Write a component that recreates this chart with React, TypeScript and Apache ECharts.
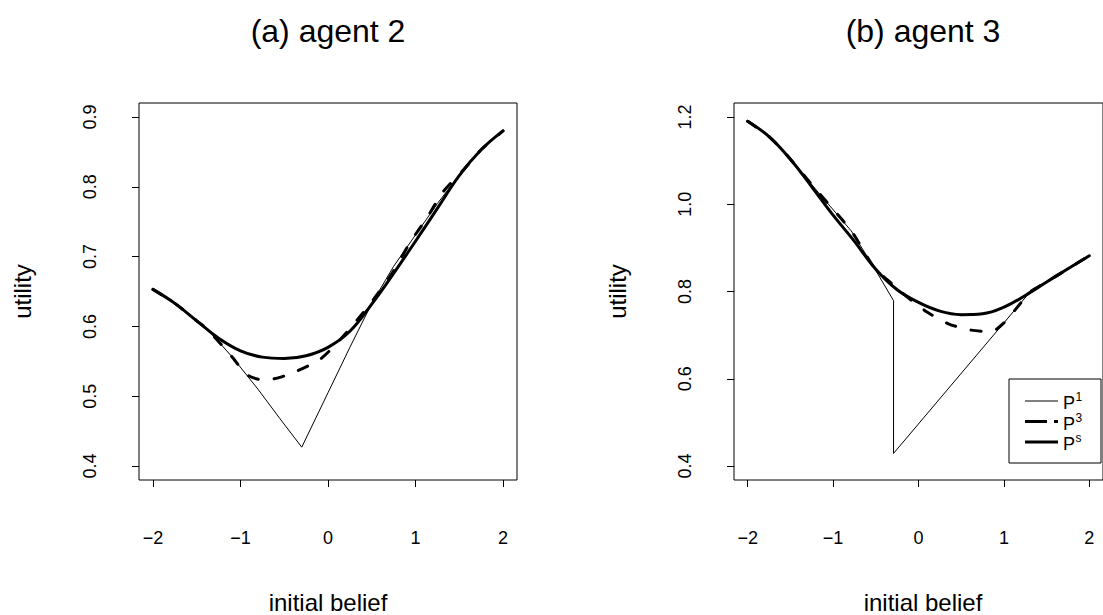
import React, { useEffect, useRef } from "react";
import * as echarts from "echarts";

// ---- text / ticks ----
const titles = ["(a) agent 2", "(b) agent 3"];
const xLabel = "initial belief";
const yLabel = "utility";
const xTicks = [-2, -1, 0, 1, 2];
const yTicksA = [0.4, 0.5, 0.6, 0.7, 0.8, 0.9];
const yTicksB = [0.4, 0.6, 0.8, 1.0, 1.2];
const legendSup = ["1", "3", "s"];

// ---- panel (a) agent 2 ----
const aPsX = [-2, -1.75, -1.5, -1.25, -1, -0.75, -0.5, -0.25, 0, 0.25, 0.5, 0.75, 1, 1.25, 1.5, 1.75, 2];
const aPsY = [0.653, 0.633, 0.608, 0.583, 0.565, 0.556, 0.554, 0.558, 0.57, 0.593, 0.632, 0.676, 0.722, 0.769, 0.816, 0.853, 0.88];

const aP1X = [-2, -1.75, -1.5, -1.38, -1.1, -0.8, -0.55, -0.3, 0, 0.25, 0.5, 0.75, 1, 1.25, 1.546, 1.75, 2];
const aP1Y = [0.653, 0.633, 0.608, 0.596, 0.557, 0.51, 0.468, 0.427, 0.505, 0.57, 0.633, 0.686, 0.731, 0.776, 0.824, 0.853, 0.88];

const aP3X = [-2, -1.75, -1.5, -1.38, -1.1, -0.927, -0.737, -0.55, -0.356, -0.09, 0.138, 0.404, 0.575, 0.747, 0.937, 1.128, 1.317, 1.546, 1.75, 2];
const aP3Y = [0.653, 0.633, 0.608, 0.596, 0.557, 0.531, 0.523, 0.527, 0.536, 0.553, 0.581, 0.62, 0.648, 0.679, 0.72, 0.755, 0.793, 0.824, 0.853, 0.88];

// ---- panel (b) agent 3 ----
const bPsX = [-2, -1.75, -1.5, -1.25, -1, -0.75, -0.5, -0.25, 0, 0.25, 0.5, 0.75, 1, 1.25, 1.5, 1.75, 2];
const bPsY = [1.19, 1.155, 1.103, 1.04, 0.975, 0.915, 0.851, 0.804, 0.775, 0.755, 0.747, 0.749, 0.764, 0.791, 0.822, 0.852, 0.882];

const bP1X = [-2, -1.75, -1.548, -1.168, -0.788, -0.521, -0.292, -0.292, 1.267, 1.5, 1.75, 2];
const bP1Y = [1.19, 1.155, 1.114, 1.026, 0.939, 0.855, 0.779, 0.429, 0.79, 0.822, 0.852, 0.882];

const bP3X = [-2, -1.75, -1.548, -1.168, -0.788, -0.521, -0.36, -0.13, 0.1, 0.35, 0.6, 0.85, 1.0, 1.19, 1.3, 1.5, 1.75, 2];
const bP3Y = [1.19, 1.155, 1.114, 1.026, 0.939, 0.855, 0.826, 0.787, 0.753, 0.726, 0.712, 0.708, 0.728, 0.772, 0.798, 0.822, 0.852, 0.882];

const zip = (xs: number[], ys: number[]) => xs.map((x, i) => [x, ys[i]]);

const FONT = "'Liberation Sans', Arial, Helvetica, sans-serif";

export default function App() {
  const ref = useRef<HTMLDivElement>(null);

  useEffect(() => {
    if (!ref.current) return;
    const chart = echarts.init(ref.current, undefined, { renderer: "svg" });

    const gridW = 378;
    const gridH = 377;
    const gridTop = 103;
    const lefts = [139, 734];

    const xAxisBase = (gi: number) => ({
      type: "value",
      gridIndex: gi,
      min: -2.16,
      max: 2.16,
      axisLine: { show: false, onZero: false },
      splitLine: { show: false },
      axisTick: {
        show: true,
        inside: false,
        length: 7,
        customValues: xTicks,
        lineStyle: { color: "#000", width: 1 },
      },
      axisLabel: {
        show: true,
        customValues: xTicks,
        margin: 49,
        color: "#000",
        fontSize: 18,
        fontFamily: FONT,
        formatter: (v: number) => (v < 0 ? "\u2212" + Math.abs(v) : String(v)),
      },
    });

    const yAxisBase = (gi: number, ticks: number[], min: number, max: number) => ({
      type: "value",
      gridIndex: gi,
      min,
      max,
      axisLine: { show: false, onZero: false },
      splitLine: { show: false },
      axisTick: {
        show: true,
        inside: false,
        length: 7,
        customValues: ticks,
        lineStyle: { color: "#000", width: 1 },
      },
      axisLabel: {
        show: true,
        customValues: ticks,
        rotate: 90,
        margin: 40,
        color: "#000",
        fontSize: 18,
        fontFamily: FONT,
        formatter: (v: number) => v.toFixed(1),
      },
    });

    const lineSeries = (
      name: string,
      gi: number,
      data: number[][],
      width: number,
      dashed: boolean,
      smooth: number | boolean
    ) => ({
      type: "line",
      name,
      xAxisIndex: gi,
      yAxisIndex: gi,
      data,
      showSymbol: false,
      symbol: "none",
      smooth,
      lineStyle: {
        color: "#000",
        width,
        type: dashed ? [10, 16] : "solid",
        cap: "round",
        join: "round",
      },
      z: width > 1 ? 3 : 2,
    });

    const centers = [lefts[0] + gridW / 2, lefts[1] + gridW / 2];
    const graphics: any[] = [];
    centers.forEach((cx, i) => {
      graphics.push({
        type: "text",
        x: cx,
        y: 31,
        style: {
          text: titles[i],
          fontSize: 32,
          fontFamily: FONT,
          fill: "#000",
          textAlign: "center",
          textVerticalAlign: "middle",
          align: "center",
          verticalAlign: "middle",
        },
      });
      graphics.push({
        type: "text",
        x: cx,
        y: 602,
        style: {
          text: xLabel,
          fontSize: 24,
          fontFamily: FONT,
          fill: "#000",
          textAlign: "center",
          textVerticalAlign: "middle",
          align: "center",
          verticalAlign: "middle",
        },
      });
      graphics.push({
        type: "text",
        x: lefts[i] - 117,
        y: gridTop + gridH / 2,
        rotation: Math.PI / 2,
        style: {
          text: yLabel,
          fontSize: 24,
          fontFamily: FONT,
          fill: "#000",
          textAlign: "center",
          textVerticalAlign: "middle",
          align: "center",
          verticalAlign: "middle",
        },
      });
    });

    // legend box in panel (b)
    const lgX = 1009;
    const lgY = 379;
    const rows = [401, 421.5, 442];
    const widths = [1, 3, 3];
    const dashes: any[] = [null, [22, 7], null];
    graphics.push({
      type: "rect",
      shape: { x: lgX, y: lgY, width: 92, height: 84 },
      style: { fill: "#fff", stroke: "#000", lineWidth: 1 },
      z: 10,
    });
    rows.forEach((ry, i) => {
      graphics.push({
        type: "line",
        shape: { x1: 1025, y1: ry, x2: 1058, y2: ry },
        style: { stroke: "#000", lineWidth: widths[i], lineDash: dashes[i] || undefined },
        z: 11,
      });
      graphics.push({
        type: "text",
        x: 1063,
        y: ry + 2,
        style: {
          text: "P",
          fontSize: 18,
          fontFamily: FONT,
          fill: "#000",
          textAlign: "left",
          textVerticalAlign: "middle",
          align: "left",
          verticalAlign: "middle",
        },
        z: 11,
      });
      graphics.push({
        type: "text",
        x: 1075.5,
        y: ry - 4,
        style: {
          text: legendSup[i],
          fontSize: 12,
          fontFamily: FONT,
          fill: "#000",
          textAlign: "left",
          textVerticalAlign: "middle",
          align: "left",
          verticalAlign: "middle",
        },
        z: 11,
      });
    });

    chart.setOption({
      animation: false,
      backgroundColor: "#fff",
      textStyle: { fontFamily: FONT },
      grid: lefts.map((l) => ({
        left: l,
        top: gridTop,
        width: gridW,
        height: gridH,
        show: true,
        borderColor: "#000",
        borderWidth: 1,
        backgroundColor: "transparent",
        containLabel: false,
      })),
      xAxis: [xAxisBase(0), xAxisBase(1)],
      yAxis: [yAxisBase(0, yTicksA, 0.38, 0.92), yAxisBase(1, yTicksB, 0.368, 1.232)],
      series: [
        lineSeries("P1", 0, zip(aP1X, aP1Y), 1, false, false),
        lineSeries("P3", 0, zip(aP3X, aP3Y), 3, true, 0.25),
        lineSeries("Ps", 0, zip(aPsX, aPsY), 3, false, 0.4),
        lineSeries("P1", 1, zip(bP1X, bP1Y), 1, false, false),
        lineSeries("P3", 1, zip(bP3X, bP3Y), 3, true, 0.25),
        lineSeries("Ps", 1, zip(bPsX, bPsY), 3, false, 0.4),
      ],
      graphic: graphics,
    });

    return () => chart.dispose();
  }, []);

  return (
    <div
      ref={ref}
      style={{ position: "absolute", left: 0, top: 0, width: 1103, height: 615, background: "#fff" }}
    />
  );
}
